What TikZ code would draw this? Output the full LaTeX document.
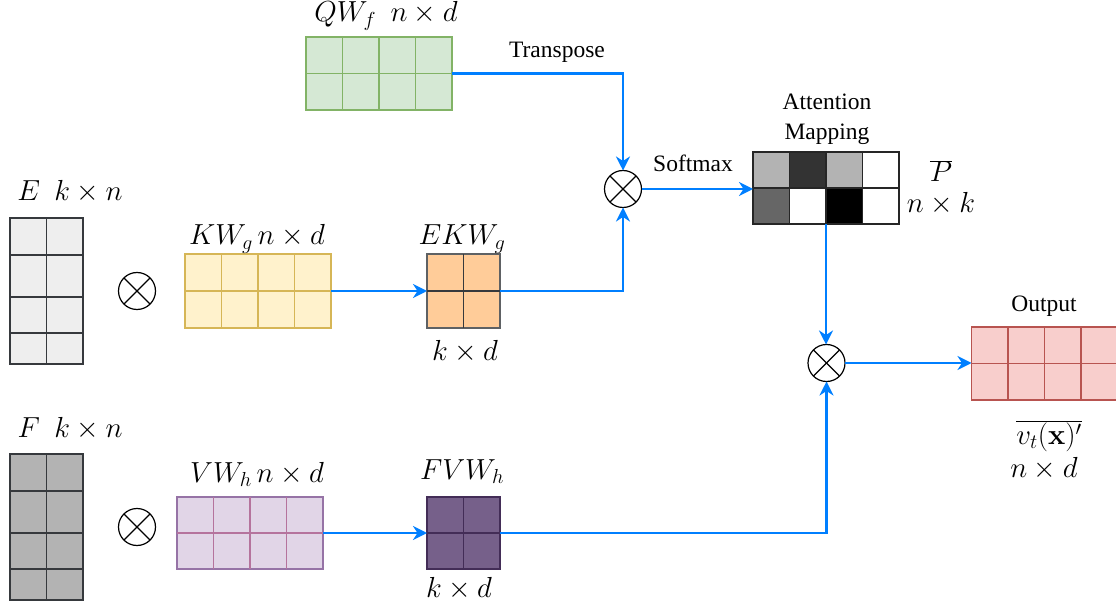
\RequirePackage{fix-cm}
\documentclass[tikz,border=0pt]{standalone}
\usepackage[no-math]{fontspec}
\setmainfont{Liberation Serif}
\newfontfamily\lblfont{Liberation Serif}
\usetikzlibrary{arrows.meta,calc}
\definecolor{arrblue}{HTML}{007FFF}
\definecolor{qwfill}{HTML}{D5E8D4}\definecolor{qwline}{HTML}{82B366}
\definecolor{kwfill}{HTML}{FFF2CC}\definecolor{kwline}{HTML}{D6B656}
\definecolor{ekwfill}{HTML}{FFCC99}\definecolor{darkline}{HTML}{36393D}
\definecolor{vwfill}{HTML}{E1D5E7}\definecolor{vwline}{HTML}{9673A6}\definecolor{vwinner}{HTML}{B5739D}
\definecolor{fvwfill}{HTML}{76608A}\definecolor{fvwline}{HTML}{432D57}
\definecolor{efill}{HTML}{EEEEEE}\definecolor{ffill}{HTML}{B3B3B3}
\definecolor{outfill}{HTML}{F8CECC}\definecolor{outline}{HTML}{B85450}
\begin{document}
\begin{tikzpicture}[x=1pt,y=-1pt,
  mat/.style={rectangle, inner sep=0pt, outer sep=0pt, line width=1.1pt},
  otimes/.style={circle, draw=black, line width=1.2pt, minimum size=37pt, inner sep=0pt, outer sep=0pt},
  arr/.style={draw=arrblue, line width=2.4pt, -{Stealth[length=14pt,width=14pt,inset=4.5pt]}},
  lbl/.style={font=\lblfont\fontsize{23.5}{28}\selectfont, inner sep=0pt, anchor=base},
  mlbl/.style={font=\fontsize{29}{33}\selectfont, inner sep=0pt, anchor=base}]
\useasboundingbox (0,0) rectangle (1116,609);

% QW_f
\node[mat, fill=qwfill, draw=qwline, minimum width=146pt, minimum height=73pt] (qw) at (379,73.5) {};
\foreach \i in {1,2,3} \draw[qwline, line width=1.1pt] ($(qw.north west)+(\i*36.5,0)$) -- ($(qw.south west)+(\i*36.5,0)$);
\draw[qwline, line width=1.1pt] (qw.west) -- (qw.east);

% E
\node[mat, fill=efill, draw=darkline, minimum width=73pt, minimum height=146pt] (E) at (46.5,291) {};
\draw[darkline, line width=1.1pt] (E.north) -- (E.south);
\foreach \r in {37,79,115} \draw[darkline, line width=1.1pt] ($(E.north west)+(0,\r)$) -- ($(E.north east)+(0,\r)$);

% F
\node[mat, fill=ffill, draw=darkline, minimum width=73pt, minimum height=146pt] (F) at (46.5,527) {};
\draw[darkline, line width=1.1pt] (F.north) -- (F.south);
\foreach \r in {37,79,115} \draw[darkline, line width=1.1pt] ($(F.north west)+(0,\r)$) -- ($(F.north east)+(0,\r)$);

% KW_g
\node[mat, fill=kwfill, draw=kwline, minimum width=146pt, minimum height=74pt] (kw) at (258,291) {};
\foreach \i in {1,2,3} \draw[kwline, line width=1.1pt] ($(kw.north west)+(\i*36.5,0)$) -- ($(kw.south west)+(\i*36.5,0)$);
\draw[kwline, line width=1.1pt] (kw.west) -- (kw.east);

% EKW_g
\node[mat, fill=ekwfill, draw=darkline!80, minimum width=73pt, minimum height=74pt] (ekw) at (463.5,291) {};
\draw[darkline, line width=1.1pt] (ekw.north) -- (ekw.south);
\draw[darkline, line width=1.1pt] (ekw.west) -- (ekw.east);

% VW_h
\node[mat, fill=vwfill, draw=vwline, minimum width=146pt, minimum height=72pt] (vw) at (250,533) {};
\foreach \i in {1,2,3} \draw[vwinner, line width=1.1pt] ($(vw.north west)+(\i*36.5,0)$) -- ($(vw.south west)+(\i*36.5,0)$);
\draw[vwinner, line width=1.1pt] (vw.west) -- (vw.east);

% FVW_h
\node[mat, fill=fvwfill, draw=fvwline, minimum width=73pt, minimum height=72pt] (fvw) at (463.5,533) {};
\draw[fvwline, line width=1.1pt] (fvw.north) -- (fvw.south);
\draw[fvwline, line width=1.1pt] (fvw.west) -- (fvw.east);

% Attention mapping
\node[mat, minimum width=146pt, minimum height=72pt] (att) at (826,188) {};
\foreach \i/\j/\c in {0/0/ffill,1/0/black!80,2/0/ffill,3/0/white,0/1/black!60,1/1/white,2/1/black,3/1/white}
  \draw[fill=\c, draw=black!85, line width=1.2pt] ($(att.north west)+(\i*36.5,\j*36)$) rectangle ++(36.5,36);

% Output
\node[mat, fill=outfill, draw=outline, minimum width=146pt, minimum height=73pt] (out) at (1044.5,363.5) {};
\foreach \i in {1,2,3} \draw[outline, line width=1.1pt] ($(out.north west)+(\i*36.5,0)$) -- ($(out.south west)+(\i*36.5,0)$);
\draw[outline, line width=1.1pt] (out.west) -- (out.east);

% otimes
\node[otimes] (c1) at (623,189) {};
\node[otimes] (c2) at (826.5,363) {};
\node[otimes] (c3) at (137,291) {};
\node[otimes] (c4) at (137,527) {};
\foreach \c in {c1,c2,c3,c4} {
  \draw[line width=1.2pt] (\c.45) -- (\c.225);
  \draw[line width=1.2pt] (\c.135) -- (\c.315);
}

% connectors
\draw[arr] (qw.east) -| (c1.north);
\draw[arr] (kw.east) -- (ekw.west);
\draw[arr] (ekw.east) -| (c1.south);
\draw[arr] (c1.east) -- (c1.east -| att.west);
\draw[arr] (att.south) -- (att.south |- c2.north);
\draw[arr] (vw.east) -- (fvw.west);
\draw[arr] (fvw.east) -| (c2.south);
\draw[arr] (c2.east) -- (c2.east -| out.west);

% labels
\node[mlbl] (lqw) at (386,22) {$QW_f\ \ n\times d$};
\node[lbl] (ltr) at (557,58) {Transpose};
\node[lbl] (lsm) at (693,172) {Softmax};
\node[lbl] (la1) at (827,110) {Attention};
\node[lbl] (la2) at (827,140) {Mapping};
\node[mlbl] (lp) at (941,182) {$\overline{P}$};
\node[mlbl] (lnk) at (941,213) {$n\times k$};
\node[mlbl] (le) at (70,201) {$E\ \ k\times n$};
\node[mlbl] (lf) at (70,437) {$F\ \ k\times n$};
\node[mlbl] (lkw) at (257,245) {$KW_g\,n\times d$};
\node[mlbl] (lekw) at (462,245) {$EKW_g$};
\node[mlbl] (lkd1) at (465,360) {$k\times d$};
\node[mlbl] (lvw) at (257,482) {$VW_h\,n\times d$};
\node[mlbl] (lfvw) at (462,479) {$FVW_h$};
\node[mlbl] (lkd2) at (459,597) {$k\times d$};
\node[lbl] (lout) at (1044,312) {Output};
\node[mlbl] (lv) at (1049,444) {$\overline{v_t(\mathbf{x})'}$};
\node[mlbl] (lnd) at (1044,477) {$n\times d$};
\end{tikzpicture}
\end{document}
